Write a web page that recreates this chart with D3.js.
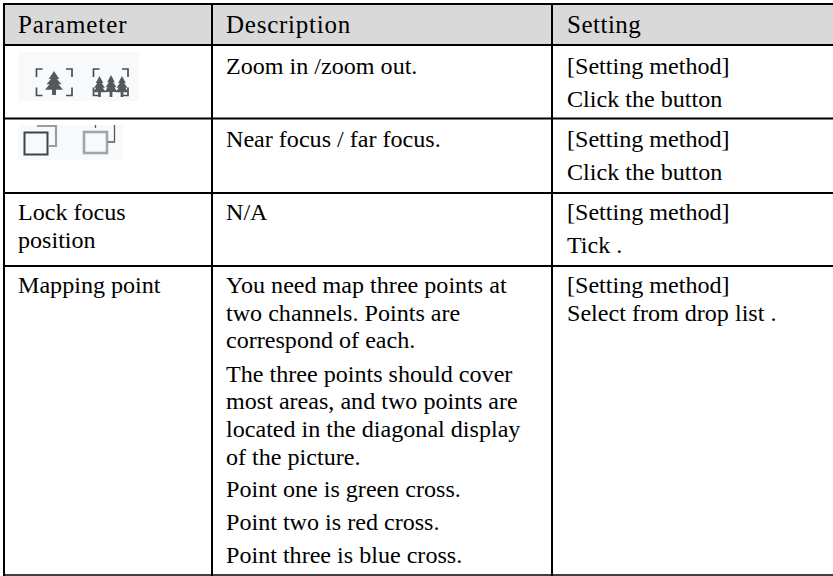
<!DOCTYPE html>
<html><head><meta charset="utf-8">
<script src="https://cdn.jsdelivr.net/npm/d3@7"></script>
<style>html,body{margin:0;padding:0;background:#fff}svg{display:block}</style></head>
<body><svg id="c" width="833" height="576"></svg>
<script>
const columns = ["Parameter","Description","Setting"];
const columnEdges = [4,212,552,840];
const textStarts = [18,226,567];
const rowEdges = [4,45,118.5,193,266,575];
const headerSpacing = [0.9,0.75,0.5];
const cellText = [
 {col:0,y:33,t:"Parameter",h:1},{col:1,y:33,t:"Description",h:1},{col:2,y:33,t:"Setting",h:1},
 {col:1,y:74,t:"Zoom in /zoom out."},{col:2,y:74,t:"[Setting method]"},{col:2,y:107,t:"Click the button"},
 {col:1,y:147,t:"Near focus / far focus."},{col:2,y:147,t:"[Setting method]"},{col:2,y:180,t:"Click the button"},
 {col:0,y:220,t:"Lock focus"},{col:0,y:248,t:"position"},{col:1,y:220,t:"N/A"},{col:2,y:220,t:"[Setting method]"},{col:2,y:253,t:"Tick ."},
 {col:0,y:293,t:"Mapping point"},
 {col:1,y:293,t:"You need map three points at"},{col:1,y:321,t:"two channels. Points are"},{col:1,y:348,t:"correspond of each."},
 {col:1,y:382,t:"The three points should cover"},{col:1,y:409,t:"most areas, and two points are"},{col:1,y:437,t:"located in the diagonal display"},{col:1,y:465,t:"of the picture."},
 {col:1,y:497,t:"Point one is green cross."},{col:1,y:530,t:"Point two is red cross."},{col:1,y:563,t:"Point three is blue cross."},
 {col:2,y:293,t:"[Setting method]"},{col:2,y:321,t:"Select from drop list ."}
];
const svg = d3.select("#c");
svg.append("rect").attr("x",columnEdges[0]).attr("y",rowEdges[0]).attr("width",833-columnEdges[0]).attr("height",rowEdges[1]-rowEdges[0]).attr("fill","#d9d9d9");

const icons = svg.append("g");
icons.append("rect").attr("x",18).attr("y",52).attr("width",121).attr("height",49).attr("fill","#f8f9fb");
icons.append("rect").attr("x",18).attr("y",125).attr("width",105).attr("height",35).attr("fill","#f8f9fb");
const defs = svg.append("defs");
defs.append("filter").attr("id","b").append("feGaussianBlur").attr("stdDeviation",0.6);
const ic = icons.append("g").attr("filter","url(#b)");
const stroke = "#4a4d52";
function brackets(x0,y0,x1,y1){
  const a=6;
  const p=`M${x0+a},${y0}H${x0}V${y0+a+2} M${x1-a},${y0}H${x1}V${y0+a+2} M${x0},${y1-a-2}V${y1}H${x0+a} M${x1},${y1-a-2}V${y1}H${x1-a}`;
  ic.append("path").attr("d",p).attr("fill","none").attr("stroke",stroke).attr("stroke-width",1.7);
}
function tree(cx,top,w,h){
  const sx=w/12, sy=h/18;
  const d=`M${cx},${top}L${cx+3.5*sx},${top+6*sy}H${cx+2*sx}L${cx+5*sx},${top+10*sy}H${cx+3*sx}L${cx+6*sx},${top+14*sy}H${cx+1.3*sx}V${top+18*sy}H${cx-1.3*sx}V${top+14*sy}H${cx-6*sx}L${cx-3*sx},${top+10*sy}H${cx-5*sx}L${cx-2*sx},${top+6*sy}H${cx-3.5*sx}Z`;
  ic.append("path").attr("d",d).attr("fill","#55585c");
}
brackets(36.5,69,72,95.5); tree(54,71,18,24);
brackets(93.5,69,128,95.5); tree(99.5,76,13,21); tree(111,75,13,22); tree(122,76,13,21);
ic.append("rect").attr("x",24.5).attr("y",132.5).attr("width",23).attr("height",22).attr("fill","none").attr("stroke","#3f4246").attr("stroke-width",2);
ic.append("path").attr("d","M37,126H56V146H48").attr("fill","none").attr("stroke","#9a9ca0").attr("stroke-width",2.2);
ic.append("rect").attr("x",84).attr("y",132).attr("width",23).attr("height",21).attr("fill","none").attr("stroke","#a2a4a8").attr("stroke-width",2.6);
ic.append("path").attr("d","M95.5,125V128 M114.5,125V142H108").attr("fill","none").attr("stroke","#55585c").attr("stroke-width",1.3);

const lines = svg.append("g").attr("stroke","#000");
lines.selectAll(".h").data(rowEdges).join("line").attr("x1",3).attr("x2",833).attr("y1",d=>d).attr("y2",d=>d)
  .attr("stroke-width",(d,i)=>i===rowEdges.length-1?1.3:2);
lines.selectAll(".v").data(columnEdges.slice(0,3)).join("line").attr("x1",d=>d).attr("x2",d=>d).attr("y1",3).attr("y2",576).attr("stroke-width",2);

svg.append("g").selectAll("text").data(cellText).join("text")
  .attr("x",d=>textStarts[d.col])
  .attr("y",d=>d.y)
  .attr("font-family","'Liberation Serif',serif")
  .attr("font-size",d=>d.h?25:24.1)
  .attr("letter-spacing",d=>d.h?headerSpacing[d.col]:0)
  .attr("fill","#000")
  .text(d=>d.t);
</script></body></html>
